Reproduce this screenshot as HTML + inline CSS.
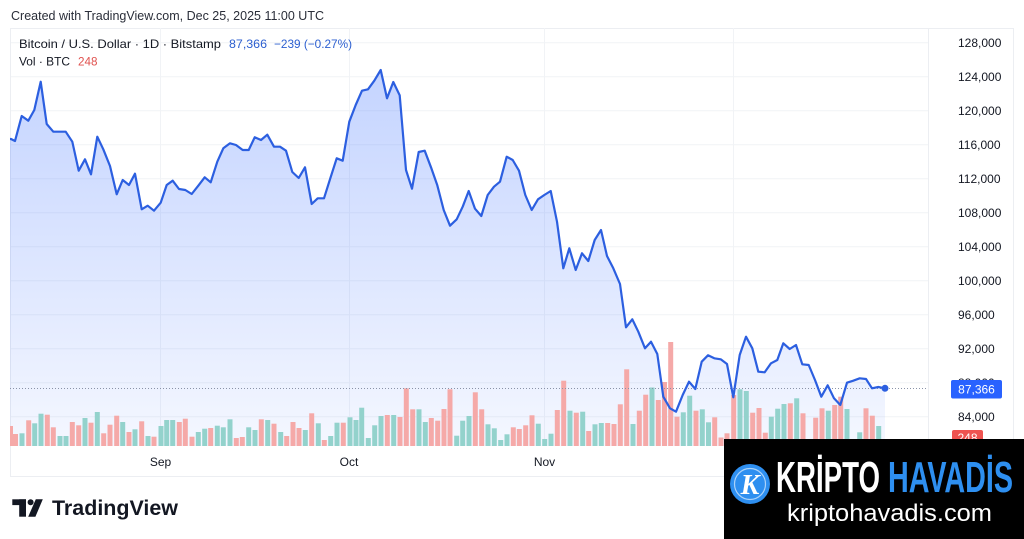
<!DOCTYPE html>
<html>
<head>
<meta charset="utf-8">
<style>
html,body{margin:0;padding:0;background:#fff;}
body{width:1024px;height:539px;overflow:hidden;}
svg{display:block;font-family:"Liberation Sans","DejaVu Sans",sans-serif;}
</style>
</head>
<body>
<svg width="1024" height="539" viewBox="0 0 1024 539" xmlns="http://www.w3.org/2000/svg">
<defs>
<linearGradient id="fillg" gradientUnits="userSpaceOnUse" x1="0" y1="28" x2="0" y2="446">
<stop offset="0" stop-color="#2962ff" stop-opacity="0.30"/>
<stop offset="1" stop-color="#2962ff" stop-opacity="0.05"/>
</linearGradient>
<clipPath id="pane"><rect x="10" y="28" width="918" height="418"/></clipPath>
</defs>
<rect width="1024" height="539" fill="#fff"/>

<!-- header -->
<text x="11" y="20" font-size="12.5" fill="#2a2e39" textLength="313" lengthAdjust="spacingAndGlyphs">Created with TradingView.com, Dec 25, 2025 11:00 UTC</text>

<!-- pane borders -->
<g stroke="#eceef2" stroke-width="1" fill="none">
<line x1="10" y1="28.5" x2="1013" y2="28.5"/>
<line x1="10.5" y1="28" x2="10.5" y2="476"/>
<line x1="928.5" y1="28" x2="928.5" y2="476"/>
<line x1="1013.5" y1="28" x2="1013.5" y2="476"/>
<line x1="10" y1="476.5" x2="1013" y2="476.5"/>
</g>

<!-- grid -->
<g stroke="#f1f3f6" stroke-width="1">
<line x1="11" y1="42.7" x2="928" y2="42.7"/>
<line x1="11" y1="76.7" x2="928" y2="76.7"/>
<line x1="11" y1="110.7" x2="928" y2="110.7"/>
<line x1="11" y1="144.7" x2="928" y2="144.7"/>
<line x1="11" y1="178.7" x2="928" y2="178.7"/>
<line x1="11" y1="212.7" x2="928" y2="212.7"/>
<line x1="11" y1="246.7" x2="928" y2="246.7"/>
<line x1="11" y1="280.7" x2="928" y2="280.7"/>
<line x1="11" y1="314.7" x2="928" y2="314.7"/>
<line x1="11" y1="348.7" x2="928" y2="348.7"/>
<line x1="11" y1="382.7" x2="928" y2="382.7"/>
<line x1="11" y1="416.7" x2="928" y2="416.7"/>
<line x1="160.5" y1="28" x2="160.5" y2="446"/>
<line x1="349.5" y1="28" x2="349.5" y2="446"/>
<line x1="544.5" y1="28" x2="544.5" y2="446"/>
<line x1="733.5" y1="28" x2="733.5" y2="446"/>
</g>

<g clip-path="url(#pane)">
<!-- area fill -->
<polygon fill="url(#fillg)" points="10,446 10,139 11,139 15,141 21.7,116 28.3,120.7 34.3,110 40.7,81.7 46.7,124 53.3,131.7 59.5,131.7 65.7,131.7 72.3,141.7 78.7,170.7 85,159.3 91,174.3 97.3,136.7 103.3,149.3 110,166 116.7,194.3 122.7,180 129,185 135,173.7 141.7,209.3 147.7,205.7 154,210.7 160.7,202.7 166.7,185 172.7,180.7 179,189 185.3,190 191.7,194 198.3,185.7 204.7,177.3 210.7,182.3 217.3,161.7 223.3,148.3 230,143.3 236,145 242.7,150 248.7,150 254.7,137.3 261,140 267.3,134.7 274,146.7 280,146.7 286,150.7 292.3,172 298.7,178 305,167.3 311.7,204 317.7,198.3 324,198.3 330.3,178.3 336.7,158.3 342.7,160.7 349.3,121.7 355.7,105 362,90.7 368,89.3 374.3,80.7 380.7,70 387,98.3 393.3,82 399.7,95.3 406,170 412,188.7 418.7,152 424.7,150.7 431,167.3 437.3,185.3 443.7,210 450,225.7 456.7,219.3 462.7,206.7 468.7,191 475,208.7 481.3,216 487.7,195 494,186.7 500,181.7 506.7,156.7 512.7,160 519,170.7 525.3,195 531.7,210 538,199.3 544.3,195 550.7,191 557,221.7 563.3,268.3 569.3,248.3 575.7,270 582,253.3 588.3,261 594.7,240 601,230 607,256 613.3,268.3 620,284 626,327.3 632.3,319.3 638.3,331.7 645,348.3 651,341.7 657.3,354 663.3,396.7 670,408.3 676,411.7 682.7,395 689,381.7 695.3,389 701.7,361.7 708,355.3 714.3,358.3 720.7,359.3 727,364 733.3,397.3 739.7,355 746,336.7 752.3,348.3 758.3,371.7 764.7,372.3 771,363.3 777.3,360 783.3,343.3 789.7,349 796,345 802.3,364.3 808.7,365 815,380 821.3,396.7 827.7,385.3 834,398.3 840.3,405 847,382.7 853.3,380.7 859.7,378.3 866,379 872,388.3 878.3,387 885,388.3 885,446"/>

<!-- volume bars -->
<g>
<rect x="10" y="426" width="3" height="20" fill="#f5a9a8"/>
<rect x="13" y="434" width="5" height="12" fill="#f5a9a8"/>
<rect x="19.5" y="433.3" width="5" height="12.7" fill="#93d2cc"/>
<rect x="26.2" y="420.3" width="5" height="25.7" fill="#f5a9a8"/>
<rect x="32.2" y="423.3" width="5" height="22.7" fill="#93d2cc"/>
<rect x="38.5" y="413.7" width="5" height="32.3" fill="#93d2cc"/>
<rect x="44.8" y="414.7" width="5" height="31.3" fill="#f5a9a8"/>
<rect x="50.8" y="427.3" width="5" height="18.7" fill="#f5a9a8"/>
<rect x="57.5" y="436" width="5" height="10" fill="#93d2cc"/>
<rect x="63.5" y="436" width="5" height="10" fill="#93d2cc"/>
<rect x="69.8" y="422" width="5" height="24" fill="#f5a9a8"/>
<rect x="76.2" y="425.3" width="5" height="20.7" fill="#f5a9a8"/>
<rect x="82.5" y="418" width="5" height="28" fill="#93d2cc"/>
<rect x="88.5" y="422.7" width="5" height="23.3" fill="#f5a9a8"/>
<rect x="94.8" y="412" width="5" height="34" fill="#93d2cc"/>
<rect x="101.2" y="433.3" width="5" height="12.7" fill="#f5a9a8"/>
<rect x="107.5" y="424.7" width="5" height="21.3" fill="#f5a9a8"/>
<rect x="114.2" y="415.7" width="5" height="30.3" fill="#f5a9a8"/>
<rect x="120.2" y="422" width="5" height="24" fill="#93d2cc"/>
<rect x="126.5" y="432" width="5" height="14" fill="#f5a9a8"/>
<rect x="132.5" y="429.3" width="5" height="16.7" fill="#93d2cc"/>
<rect x="139.2" y="421.3" width="5" height="24.7" fill="#f5a9a8"/>
<rect x="145.5" y="436" width="5" height="10" fill="#93d2cc"/>
<rect x="151.5" y="436.7" width="5" height="9.3" fill="#f5a9a8"/>
<rect x="158.5" y="426" width="5" height="20" fill="#93d2cc"/>
<rect x="164.2" y="420" width="5" height="26" fill="#93d2cc"/>
<rect x="170.2" y="420" width="5" height="26" fill="#93d2cc"/>
<rect x="176.8" y="422" width="5" height="24" fill="#f5a9a8"/>
<rect x="182.8" y="418.7" width="5" height="27.3" fill="#f5a9a8"/>
<rect x="189.5" y="436.7" width="5" height="9.3" fill="#f5a9a8"/>
<rect x="195.8" y="432" width="5" height="14" fill="#93d2cc"/>
<rect x="202.2" y="428.7" width="5" height="17.3" fill="#93d2cc"/>
<rect x="208.2" y="428" width="5" height="18" fill="#f5a9a8"/>
<rect x="214.8" y="425.7" width="5" height="20.3" fill="#93d2cc"/>
<rect x="220.8" y="427.3" width="5" height="18.7" fill="#93d2cc"/>
<rect x="227.5" y="419.3" width="5" height="26.7" fill="#93d2cc"/>
<rect x="233.8" y="438" width="5" height="8" fill="#f5a9a8"/>
<rect x="239.8" y="437" width="5" height="9" fill="#f5a9a8"/>
<rect x="246.2" y="427.3" width="5" height="18.7" fill="#93d2cc"/>
<rect x="252.5" y="430" width="5" height="16" fill="#93d2cc"/>
<rect x="258.8" y="419.3" width="5" height="26.7" fill="#f5a9a8"/>
<rect x="265.2" y="420" width="5" height="26" fill="#93d2cc"/>
<rect x="271.5" y="423.7" width="5" height="22.3" fill="#f5a9a8"/>
<rect x="278.2" y="432" width="5" height="14" fill="#93d2cc"/>
<rect x="284.2" y="436" width="5" height="10" fill="#f5a9a8"/>
<rect x="290.5" y="422" width="5" height="24" fill="#f5a9a8"/>
<rect x="296.5" y="428" width="5" height="18" fill="#f5a9a8"/>
<rect x="302.8" y="430" width="5" height="16" fill="#93d2cc"/>
<rect x="309.2" y="413.3" width="5" height="32.7" fill="#f5a9a8"/>
<rect x="315.8" y="423.3" width="5" height="22.7" fill="#93d2cc"/>
<rect x="321.8" y="440" width="5" height="6" fill="#f5a9a8"/>
<rect x="328.2" y="436" width="5" height="10" fill="#93d2cc"/>
<rect x="334.5" y="422.7" width="5" height="23.3" fill="#93d2cc"/>
<rect x="340.8" y="422.7" width="5" height="23.3" fill="#f5a9a8"/>
<rect x="347.5" y="417.3" width="5" height="28.7" fill="#93d2cc"/>
<rect x="353.5" y="420" width="5" height="26" fill="#93d2cc"/>
<rect x="359.2" y="407.7" width="5" height="38.3" fill="#93d2cc"/>
<rect x="365.8" y="438" width="5" height="8" fill="#93d2cc"/>
<rect x="372.2" y="425.3" width="5" height="20.7" fill="#93d2cc"/>
<rect x="378.5" y="416" width="5" height="30" fill="#93d2cc"/>
<rect x="384.8" y="415" width="5" height="31" fill="#f5a9a8"/>
<rect x="391.2" y="415" width="5" height="31" fill="#93d2cc"/>
<rect x="397.5" y="417" width="5" height="29" fill="#f5a9a8"/>
<rect x="403.8" y="388.3" width="5" height="57.7" fill="#f5a9a8"/>
<rect x="410.2" y="409.3" width="5" height="36.7" fill="#f5a9a8"/>
<rect x="416.5" y="409.3" width="5" height="36.7" fill="#93d2cc"/>
<rect x="422.8" y="422" width="5" height="24" fill="#93d2cc"/>
<rect x="428.8" y="418" width="5" height="28" fill="#f5a9a8"/>
<rect x="435.2" y="420.7" width="5" height="25.3" fill="#f5a9a8"/>
<rect x="441.5" y="409" width="5" height="37" fill="#f5a9a8"/>
<rect x="447.5" y="389.3" width="5" height="56.7" fill="#f5a9a8"/>
<rect x="454.2" y="435.7" width="5" height="10.3" fill="#93d2cc"/>
<rect x="460.2" y="420.7" width="5" height="25.3" fill="#93d2cc"/>
<rect x="466.5" y="416" width="5" height="30" fill="#93d2cc"/>
<rect x="472.8" y="392.3" width="5" height="53.7" fill="#f5a9a8"/>
<rect x="479.2" y="409.3" width="5" height="36.7" fill="#f5a9a8"/>
<rect x="485.5" y="424.3" width="5" height="21.7" fill="#93d2cc"/>
<rect x="491.8" y="428.3" width="5" height="17.7" fill="#93d2cc"/>
<rect x="498.2" y="440" width="5" height="6" fill="#93d2cc"/>
<rect x="504.5" y="434.3" width="5" height="11.7" fill="#93d2cc"/>
<rect x="510.8" y="427.3" width="5" height="18.7" fill="#f5a9a8"/>
<rect x="516.8" y="429" width="5" height="17" fill="#f5a9a8"/>
<rect x="523.2" y="425.3" width="5" height="20.7" fill="#f5a9a8"/>
<rect x="529.5" y="415.3" width="5" height="30.7" fill="#f5a9a8"/>
<rect x="535.8" y="423.7" width="5" height="22.3" fill="#93d2cc"/>
<rect x="542.2" y="439" width="5" height="7" fill="#93d2cc"/>
<rect x="548.5" y="433.7" width="5" height="12.3" fill="#93d2cc"/>
<rect x="554.8" y="410" width="5" height="36" fill="#f5a9a8"/>
<rect x="561.2" y="380.7" width="5" height="65.3" fill="#f5a9a8"/>
<rect x="567.5" y="410.7" width="5" height="35.3" fill="#93d2cc"/>
<rect x="573.8" y="412.7" width="5" height="33.3" fill="#f5a9a8"/>
<rect x="580.2" y="411.7" width="5" height="34.3" fill="#93d2cc"/>
<rect x="586.2" y="431" width="5" height="15" fill="#f5a9a8"/>
<rect x="592.5" y="424.3" width="5" height="21.7" fill="#93d2cc"/>
<rect x="598.8" y="423" width="5" height="23" fill="#93d2cc"/>
<rect x="605.2" y="423" width="5" height="23" fill="#f5a9a8"/>
<rect x="611.5" y="424" width="5" height="22" fill="#f5a9a8"/>
<rect x="617.8" y="404.3" width="5" height="41.7" fill="#f5a9a8"/>
<rect x="624.2" y="369.3" width="5" height="76.7" fill="#f5a9a8"/>
<rect x="630.5" y="424" width="5" height="22" fill="#93d2cc"/>
<rect x="636.8" y="410.7" width="5" height="35.3" fill="#f5a9a8"/>
<rect x="643.2" y="394.7" width="5" height="51.3" fill="#f5a9a8"/>
<rect x="649.5" y="387.5" width="5" height="58.5" fill="#93d2cc"/>
<rect x="655.8" y="400" width="5" height="46" fill="#f5a9a8"/>
<rect x="662" y="382" width="5" height="64" fill="#f5a9a8"/>
<rect x="668.2" y="342" width="5" height="104" fill="#f5a9a8"/>
<rect x="674.5" y="416.7" width="5" height="29.3" fill="#f5a9a8"/>
<rect x="680.8" y="412.3" width="5" height="33.7" fill="#93d2cc"/>
<rect x="687.2" y="395.7" width="5" height="50.3" fill="#93d2cc"/>
<rect x="693.5" y="410.7" width="5" height="35.3" fill="#f5a9a8"/>
<rect x="699.8" y="409.3" width="5" height="36.7" fill="#93d2cc"/>
<rect x="706" y="422.3" width="5" height="23.7" fill="#93d2cc"/>
<rect x="712.2" y="417.3" width="5" height="28.7" fill="#f5a9a8"/>
<rect x="718.5" y="437.5" width="5" height="8.5" fill="#f5a9a8"/>
<rect x="724.5" y="433.3" width="5" height="12.7" fill="#f5a9a8"/>
<rect x="731.2" y="395" width="5" height="51" fill="#f5a9a8"/>
<rect x="737.5" y="389.3" width="5" height="56.7" fill="#93d2cc"/>
<rect x="743.8" y="391" width="5" height="55" fill="#93d2cc"/>
<rect x="750.2" y="412.7" width="5" height="33.3" fill="#f5a9a8"/>
<rect x="756.5" y="408" width="5" height="38" fill="#f5a9a8"/>
<rect x="762.8" y="432.7" width="5" height="13.3" fill="#f5a9a8"/>
<rect x="768.8" y="416.7" width="5" height="29.3" fill="#93d2cc"/>
<rect x="775.2" y="408.7" width="5" height="37.3" fill="#93d2cc"/>
<rect x="781.5" y="404" width="5" height="42" fill="#93d2cc"/>
<rect x="787.8" y="403.3" width="5" height="42.7" fill="#f5a9a8"/>
<rect x="794.2" y="398.3" width="5" height="47.7" fill="#93d2cc"/>
<rect x="800.5" y="413.3" width="5" height="32.7" fill="#f5a9a8"/>
<rect x="806.5" y="442" width="5" height="4" fill="#f5a9a8"/>
<rect x="813.2" y="417.7" width="5" height="28.3" fill="#f5a9a8"/>
<rect x="819.5" y="408.3" width="5" height="37.7" fill="#f5a9a8"/>
<rect x="825.8" y="410.7" width="5" height="35.3" fill="#93d2cc"/>
<rect x="832.2" y="405" width="5" height="41" fill="#f5a9a8"/>
<rect x="838.2" y="396.7" width="5" height="49.3" fill="#f5a9a8"/>
<rect x="844.5" y="409" width="5" height="37" fill="#93d2cc"/>
<rect x="850.5" y="442" width="5" height="4" fill="#93d2cc"/>
<rect x="857.2" y="432.3" width="5" height="13.7" fill="#93d2cc"/>
<rect x="863.5" y="408.3" width="5" height="37.7" fill="#f5a9a8"/>
<rect x="869.8" y="415.7" width="5" height="30.3" fill="#f5a9a8"/>
<rect x="876.2" y="426" width="5" height="20" fill="#93d2cc"/>
<rect x="882.5" y="444" width="5" height="2" fill="#f5a9a8"/>
</g>

<!-- price line dotted -->
<line x1="10" y1="388.5" x2="928" y2="388.5" stroke="#8a93a8" stroke-width="1" stroke-dasharray="1,2"/>

<!-- price line -->
<polyline fill="none" stroke="#2c5fe0" stroke-width="2.2" stroke-linejoin="round" stroke-linecap="round" points="10,139 11,139 15,141 21.7,116 28.3,120.7 34.3,110 40.7,81.7 46.7,124 53.3,131.7 59.5,131.7 65.7,131.7 72.3,141.7 78.7,170.7 85,159.3 91,174.3 97.3,136.7 103.3,149.3 110,166 116.7,194.3 122.7,180 129,185 135,173.7 141.7,209.3 147.7,205.7 154,210.7 160.7,202.7 166.7,185 172.7,180.7 179,189 185.3,190 191.7,194 198.3,185.7 204.7,177.3 210.7,182.3 217.3,161.7 223.3,148.3 230,143.3 236,145 242.7,150 248.7,150 254.7,137.3 261,140 267.3,134.7 274,146.7 280,146.7 286,150.7 292.3,172 298.7,178 305,167.3 311.7,204 317.7,198.3 324,198.3 330.3,178.3 336.7,158.3 342.7,160.7 349.3,121.7 355.7,105 362,90.7 368,89.3 374.3,80.7 380.7,70 387,98.3 393.3,82 399.7,95.3 406,170 412,188.7 418.7,152 424.7,150.7 431,167.3 437.3,185.3 443.7,210 450,225.7 456.7,219.3 462.7,206.7 468.7,191 475,208.7 481.3,216 487.7,195 494,186.7 500,181.7 506.7,156.7 512.7,160 519,170.7 525.3,195 531.7,210 538,199.3 544.3,195 550.7,191 557,221.7 563.3,268.3 569.3,248.3 575.7,270 582,253.3 588.3,261 594.7,240 601,230 607,256 613.3,268.3 620,284 626,327.3 632.3,319.3 638.3,331.7 645,348.3 651,341.7 657.3,354 663.3,396.7 670,408.3 676,411.7 682.7,395 689,381.7 695.3,389 701.7,361.7 708,355.3 714.3,358.3 720.7,359.3 727,364 733.3,397.3 739.7,355 746,336.7 752.3,348.3 758.3,371.7 764.7,372.3 771,363.3 777.3,360 783.3,343.3 789.7,349 796,345 802.3,364.3 808.7,365 815,380 821.3,396.7 827.7,385.3 834,398.3 840.3,405 847,382.7 853.3,380.7 859.7,378.3 866,379 872,388.3 878.3,387 885,388.3"/>
<circle cx="885" cy="388.3" r="3.5" fill="#2c5fe0"/>
</g>

<!-- legend -->
<text x="19" y="48" font-size="12" fill="#131722" textLength="202" lengthAdjust="spacingAndGlyphs">Bitcoin / U.S. Dollar · 1D · Bitstamp</text>
<text x="229" y="48" font-size="12" fill="#2c5fd0" textLength="38" lengthAdjust="spacingAndGlyphs">87,366</text>
<text x="274" y="48" font-size="12" fill="#2c5fd0" textLength="78" lengthAdjust="spacingAndGlyphs">−239 (−0.27%)</text>
<text x="19" y="65.5" font-size="12" fill="#131722" textLength="51" lengthAdjust="spacingAndGlyphs">Vol · BTC</text>
<text x="78" y="65.5" font-size="12" fill="#e0524f" textLength="19.5" lengthAdjust="spacingAndGlyphs">248</text>

<!-- price axis labels -->
<g font-size="12" fill="#131722">
<text x="958" y="47">128,000</text>
<text x="958" y="81">124,000</text>
<text x="958" y="115">120,000</text>
<text x="958" y="149">116,000</text>
<text x="958" y="183">112,000</text>
<text x="958" y="217">108,000</text>
<text x="958" y="251">104,000</text>
<text x="958" y="285">100,000</text>
<text x="958" y="319">96,000</text>
<text x="958" y="353">92,000</text>
<text x="958" y="387">88,000</text>
<text x="958" y="421">84,000</text>
</g>
<rect x="951" y="380" width="51" height="18.5" rx="2" fill="#2962ff"/>
<text x="976.5" y="393.5" font-size="12" fill="#fff" text-anchor="middle">87,366</text>
<rect x="952" y="430" width="31" height="16" rx="2" fill="#ef5350"/>
<text x="967.5" y="442" font-size="12" fill="#fff" text-anchor="middle">248</text>

<!-- time axis -->
<g font-size="12" fill="#131722" text-anchor="middle">
<text x="160.5" y="466">Sep</text>
<text x="349" y="466">Oct</text>
<text x="544.5" y="466">Nov</text>
</g>

<!-- TradingView logo -->
<g fill="#131722">
<rect x="12.3" y="499.3" width="13.7" height="5.8"/>
<rect x="19.2" y="499.3" width="6.8" height="17.4"/>
<circle cx="30.6" cy="502.3" r="3"/>
<polygon points="35.8,499.3 42.8,499.3 35.4,516.7 28.2,516.7"/>
</g>
<text x="52" y="515" font-size="21.5" font-weight="bold" fill="#131722" textLength="126" lengthAdjust="spacingAndGlyphs">TradingView</text>

<!-- Kripto Havadis overlay -->
<rect x="724" y="439" width="300" height="100" fill="#000"/>
<circle cx="750" cy="484" r="20" fill="#2e8ff0"/>
<circle cx="750" cy="484" r="15.5" fill="none" stroke="#fff" stroke-width="1.2" opacity="0.6"/>
<text x="750" y="494" font-size="28" font-weight="bold" font-style="italic" fill="#fff" text-anchor="middle" font-family="'Liberation Serif',serif">K</text>
<text x="776" y="492" font-size="44" font-weight="bold" fill="#fff" textLength="104" lengthAdjust="spacingAndGlyphs">KRİPTO</text>
<text x="888" y="492" font-size="44" font-weight="bold" fill="#2e8ff0" textLength="125" lengthAdjust="spacingAndGlyphs">HAVADİS</text>
<text x="787" y="521" font-size="24" fill="#fff" textLength="205" lengthAdjust="spacingAndGlyphs">kriptohavadis.com</text>
</svg>
</body>
</html>
